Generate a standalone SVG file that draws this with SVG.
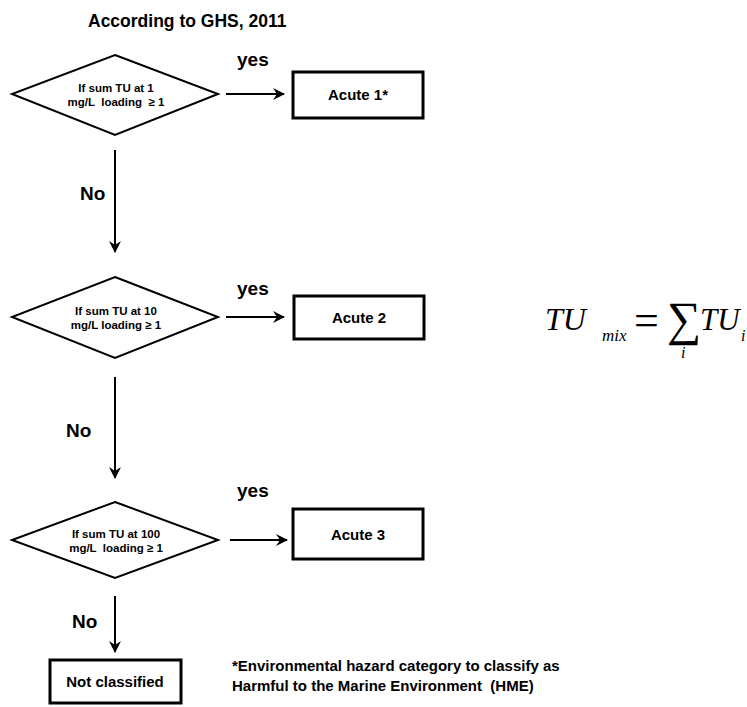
<svg xmlns="http://www.w3.org/2000/svg" width="747" height="707" viewBox="0 0 747 707">
<defs>
<style>
.t{font-family:"Liberation Sans",Arial,sans-serif;font-weight:bold;fill:#000}
.lab{font-size:19px}
.box{fill:#fff;stroke:#000;stroke-width:3}
.dia{fill:#fff;stroke:#000;stroke-width:2}
.dt{font-size:11.5px;text-anchor:middle}
.bt{font-size:15px;text-anchor:middle}
.con{stroke:#000;stroke-width:2;fill:none;marker-end:url(#ah)}
.m{font-family:"Liberation Serif","Times New Roman",serif;font-style:italic;fill:#000}
.s{font-family:"Liberation Serif","Times New Roman",serif;fill:#000}
</style>
<marker id="ah" viewBox="0 0 12 12" refX="11" refY="6" markerWidth="12" markerHeight="12" markerUnits="userSpaceOnUse" orient="auto">
<path d="M0,0 L12,6 L0,12 L4,6 z" fill="#000"/>
</marker>
</defs>
<rect width="747" height="707" fill="#fff"/>
<text class="t" x="88" y="27" font-size="17.5">According to GHS, 2011</text>

<g id="connectors">
<line class="con" x1="226" y1="94" x2="284" y2="94"/>
<line class="con" x1="115" y1="150" x2="115" y2="252"/>
<line class="con" x1="226" y1="317" x2="284" y2="317"/>
<line class="con" x1="115" y1="377" x2="115" y2="478"/>
<line class="con" x1="230" y1="540" x2="287" y2="540"/>
<line class="con" x1="115" y1="596" x2="115" y2="652"/>
<text class="t lab" x="237" y="66">yes</text>
<text class="t lab" x="80" y="200">No</text>
<text class="t lab" x="237" y="295">yes</text>
<text class="t lab" x="66" y="437">No</text>
<text class="t lab" x="237" y="497">yes</text>
<text class="t lab" x="72" y="628">No</text>
</g>

<g id="d1">
<polygon class="dia" points="115,55 218,94 115,135 12,94"/>
<text class="t dt" x="116" y="92">If sum TU at 1</text>
<text class="t dt" x="116" y="106" xml:space="preserve">mg/L  loading  ≥ 1</text>
</g>
<g id="a1">
<rect class="box" x="293" y="72" width="130" height="46"/>
<text class="t bt" x="358" y="100">Acute 1*</text>
</g>

<g id="d2">
<polygon class="dia" points="115,277 218,317 115,358 12,317"/>
<text class="t dt" x="116" y="315">If sum TU at 10</text>
<text class="t dt" x="116" y="329">mg/L loading ≥ 1</text>
</g>
<g id="a2">
<rect class="box" x="294" y="296" width="130" height="43"/>
<text class="t bt" x="359" y="323">Acute 2</text>
</g>

<g id="d3">
<polygon class="dia" points="115,502 218,540 115,578 12,540"/>
<text class="t dt" x="116" y="538">If sum TU at 100</text>
<text class="t dt" x="116" y="552" xml:space="preserve">mg/L  loading ≥ 1</text>
</g>
<g id="a3">
<rect class="box" x="293" y="509" width="130" height="50"/>
<text class="t bt" x="358" y="540">Acute 3</text>
</g>

<g id="nc">
<rect class="box" x="50" y="660" width="131" height="43"/>
<text class="t bt" x="115" y="687">Not classified</text>
</g>

<g id="note">
<text class="t" x="232" y="671" font-size="15">*Environmental hazard category to classify as</text>
<text class="t" x="232" y="691" font-size="15" xml:space="preserve">Harmful to the Marine Environment  (HME)</text>
</g>

<g id="formula">
<text class="m" x="545" y="330" font-size="32">TU</text>
<text class="m" x="602" y="341" font-size="17">mix</text>
<text class="s" x="634" y="335" font-size="44">=</text>
<text class="s" x="667" y="335" font-size="48">∑</text>
<text class="m" x="681" y="358" font-size="16">i</text>
<text class="m" x="700" y="330" font-size="31">TU</text>
<text class="m" x="741" y="341" font-size="16">i</text>
</g>
</svg>
